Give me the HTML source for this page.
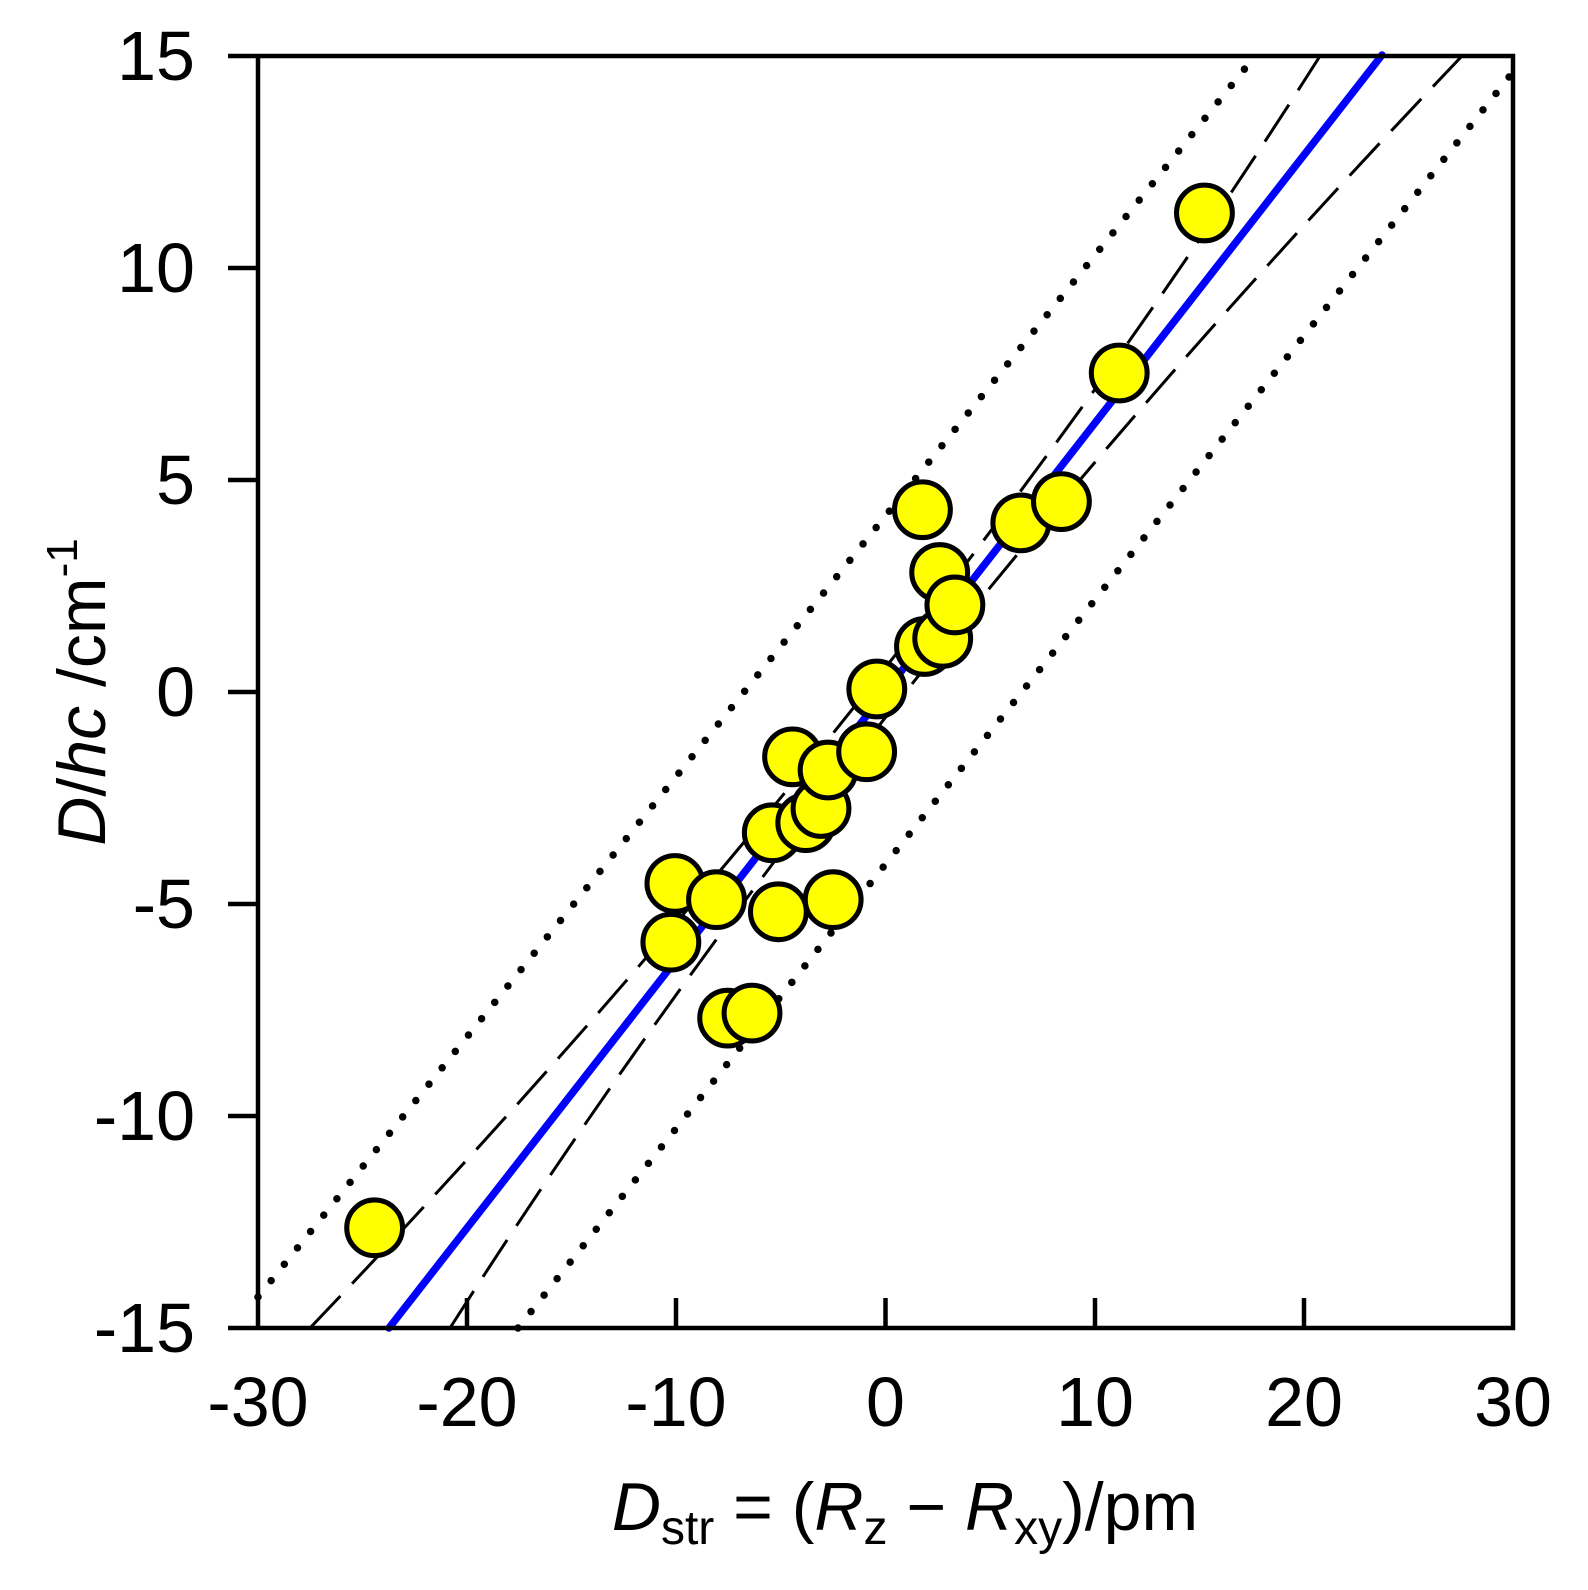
<!DOCTYPE html>
<html><head><meta charset="utf-8"><style>
html,body{margin:0;padding:0;background:#fff;}
svg{display:block;font-family:"Liberation Sans",sans-serif;}
</style></head><body>
<svg width="1588" height="1590" viewBox="0 0 1588 1590" xmlns="http://www.w3.org/2000/svg">
<rect width="1588" height="1590" fill="#fff"/>
<line x1="258" y1="1297" x2="1255" y2="56" stroke="#000" stroke-width="7.5" stroke-linecap="round" stroke-dasharray="0 21"/>
<line x1="518" y1="1328" x2="1513" y2="72" stroke="#000" stroke-width="7.5" stroke-linecap="round" stroke-dasharray="0 21"/>
<path d="M310,1328 Q918,691 1320,56" fill="none" stroke="#000" stroke-width="3" stroke-dasharray="44 17"/>
<path d="M450,1328 Q856,691 1462,56" fill="none" stroke="#000" stroke-width="3" stroke-dasharray="44 17"/>
<line x1="389" y1="1328" x2="1382" y2="55" stroke="#0000ff" stroke-width="7.5" stroke-linecap="round"/>
<g stroke="#000" stroke-width="4.5" fill="none">
<line x1="228" y1="56" x2="1515" y2="56"/>
<line x1="228" y1="1328" x2="1515" y2="1328"/>
<line x1="258" y1="54" x2="258" y2="1330"/>
<line x1="1513" y1="54" x2="1513" y2="1330"/>
<line x1="228" y1="268" x2="258" y2="268"/>
<line x1="228" y1="480" x2="258" y2="480"/>
<line x1="228" y1="692" x2="258" y2="692"/>
<line x1="228" y1="904" x2="258" y2="904"/>
<line x1="228" y1="1116" x2="258" y2="1116"/>
<line x1="467" y1="1298" x2="467" y2="1328"/>
<line x1="676" y1="1298" x2="676" y2="1328"/>
<line x1="885.5" y1="1298" x2="885.5" y2="1328"/>
<line x1="1095" y1="1298" x2="1095" y2="1328"/>
<line x1="1304" y1="1298" x2="1304" y2="1328"/>
</g>
<g transform="translate(258,56) scale(1.0144,1.0128) translate(-255,-55)" fill="#ffff00" stroke="#000" stroke-width="5">
<circle cx="370" cy="1212" r="27.5"/>
<circle cx="718" cy="1005" r="27.5"/>
<circle cx="742" cy="1000" r="27.5"/>
<circle cx="662" cy="930" r="27.5"/>
<circle cx="666" cy="872" r="27.5"/>
<circle cx="707" cy="888" r="27.5"/>
<circle cx="768" cy="900" r="27.5"/>
<circle cx="822" cy="888" r="27.5"/>
<circle cx="762" cy="822" r="27.5"/>
<circle cx="795" cy="812" r="27.5"/>
<circle cx="810" cy="798" r="27.5"/>
<circle cx="782" cy="747" r="27.5"/>
<circle cx="817" cy="760" r="27.5"/>
<circle cx="855" cy="742" r="27.5"/>
<circle cx="865" cy="680" r="27.5"/>
<circle cx="912" cy="638" r="27.5"/>
<circle cx="930" cy="630" r="27.5"/>
<circle cx="927" cy="565" r="27.5"/>
<circle cx="942" cy="597" r="27.5"/>
<circle cx="910" cy="503" r="27.5"/>
<circle cx="1007" cy="516" r="27.5"/>
<circle cx="1047" cy="495" r="27.5"/>
<circle cx="1104" cy="368" r="27.5"/>
<circle cx="1188" cy="210" r="27.5"/>
</g>
<g font-size="70" text-anchor="end" fill="#000">
<text x="195" y="80">15</text>
<text x="195" y="292">10</text>
<text x="195" y="504">5</text>
<text x="195" y="716">0</text>
<text x="195" y="928">-5</text>
<text x="195" y="1140">-10</text>
<text x="195" y="1352">-15</text>
</g>
<g font-size="70" text-anchor="middle" fill="#000">
<text x="258" y="1426">-30</text>
<text x="467" y="1426">-20</text>
<text x="676" y="1426">-10</text>
<text x="885.5" y="1426">0</text>
<text x="1095" y="1426">10</text>
<text x="1304" y="1426">20</text>
<text x="1513" y="1426">30</text>
</g>
<text x="905" y="1530" font-size="68" text-anchor="middle" fill="#000"><tspan font-style="italic">D</tspan><tspan font-size="48" dy="14">str</tspan><tspan dy="-14"> = (</tspan><tspan font-style="italic">R</tspan><tspan font-size="48" dy="14">z</tspan><tspan dy="-14"> − </tspan><tspan font-style="italic">R</tspan><tspan font-size="48" dy="14">xy</tspan><tspan dy="-14">)/pm</tspan></text>
<text transform="translate(105,692) rotate(-90)" font-size="68" text-anchor="middle" fill="#000"><tspan font-style="italic">D</tspan>/<tspan font-style="italic">hc</tspan> /cm<tspan font-size="44" dy="-28">-1</tspan></text>
</svg>
</body></html>
